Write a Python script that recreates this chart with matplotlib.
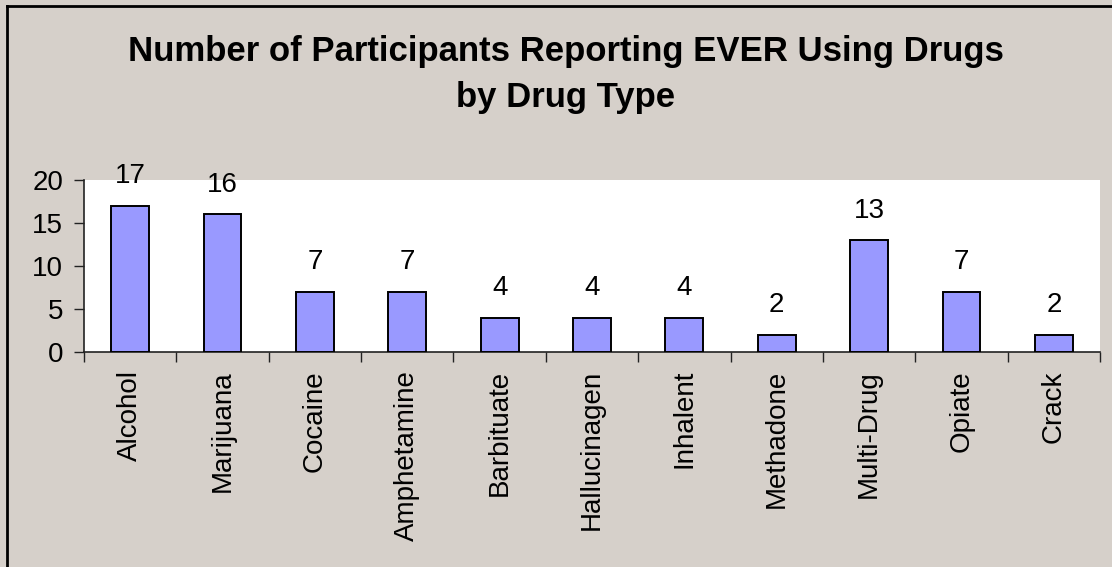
import matplotlib
matplotlib.use("Agg")
import matplotlib.pyplot as plt
from matplotlib.lines import Line2D
import numpy as np

categories = ["Alcohol", "Marijuana", "Cocaine", "Amphetamine", "Barbituate",
              "Hallucinagen", "Inhalent", "Methadone", "Multi-Drug", "Opiate", "Crack"]
values = [17, 16, 7, 7, 4, 4, 4, 2, 13, 7, 2]
yticks = [0, 5, 10, 15, 20]
title = "Number of Participants Reporting EVER Using Drugs\nby Drug Type"

plt.rcParams['font.family'] = ['Liberation Sans', 'DejaVu Sans']

W, H = 1112, 567
fig = plt.figure(figsize=(W / 100, H / 100), dpi=100)
bg = '#D6D0CA'
fig.patch.set_facecolor(bg)

ax = fig.add_axes([84 / W, 1 - 352 / H, (1100 - 84) / W, (352 - 180) / H])
ax.set_facecolor('white')

x = np.arange(len(categories))
ax.bar(x, values, width=0.41, color='#9999FF', edgecolor='black', linewidth=1.4, zorder=3)

ax.set_xlim(-0.5, len(categories) - 0.5)
ax.set_ylim(0, 20)
ax.set_yticks(yticks)
ax.set_yticklabels([str(t) for t in yticks], fontsize=20)
ax.set_xticks(x)
ax.set_xticklabels(categories, rotation=90, fontsize=20)
ax.tick_params(axis='x', length=0, pad=13)
ax.tick_params(axis='y', length=7, width=1, direction='out', pad=8, color='#222222')
ax.set_xticks(np.arange(len(categories) + 1) - 0.5, minor=True)
ax.tick_params(axis='x', which='minor', length=7, width=1, direction='out', color='#222222')

for s in ['top', 'right']:
    ax.spines[s].set_visible(False)
for s in ['left', 'bottom']:
    ax.spines[s].set_color('#222222')
    ax.spines[s].set_linewidth(1.2)

for xi, v in zip(x, values):
    ax.annotate(str(v), (xi, v), xytext=(0, 12), textcoords='offset points',
                ha='center', va='bottom', fontsize=20, annotation_clip=False)

fig.text(566 / W, 1 - 75 / H, title, ha='center', va='center',
         fontsize=25, fontweight='bold', linespacing=1.5)

# outer border
fig.add_artist(Line2D([7 / W, 7 / W], [0, 1 - 5.5 / H], color='black', lw=2, transform=fig.transFigure))
fig.add_artist(Line2D([7 / W, 1], [1 - 5.5 / H, 1 - 5.5 / H], color='black', lw=2, transform=fig.transFigure))

fig.savefig('out.png', dpi=100, facecolor=bg)
